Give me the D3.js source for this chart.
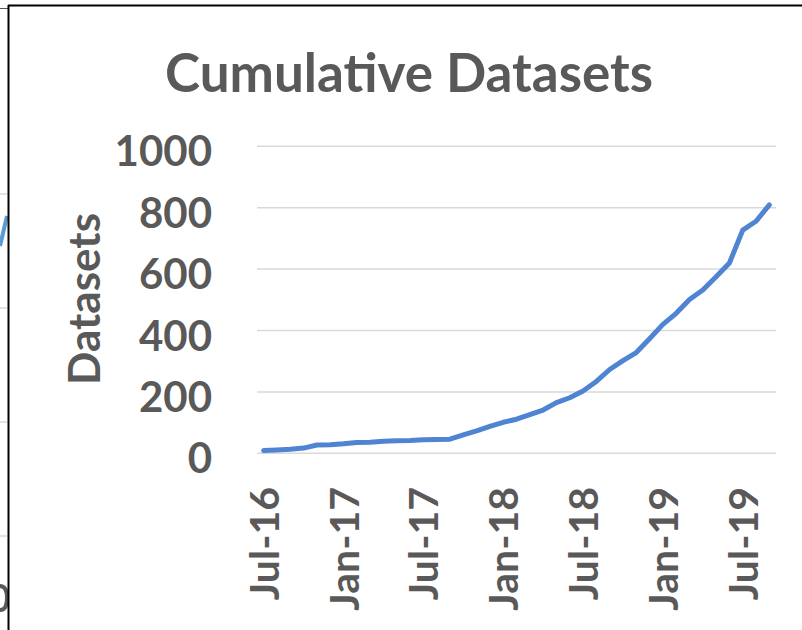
<!DOCTYPE html>
<html>
<head>
<meta charset="utf-8">
<script src="https://cdn.jsdelivr.net/npm/d3@7"></script>
<style>
  html, body { margin: 0; padding: 0; background: #fff; }
  svg { display: block; }
  text { font-family: Lato, "Open Sans", sans-serif; font-weight: bold; fill: #595959; }
</style>
</head>
<body>
<script>
// months from Jul-16 to Sep-19
const months = ["2016-07","2016-08","2016-09","2016-10","2016-11","2016-12",
  "2017-01","2017-02","2017-03","2017-04","2017-05","2017-06",
  "2017-07","2017-08","2017-09","2017-10","2017-11","2017-12",
  "2018-01","2018-02","2018-03","2018-04","2018-05","2018-06",
  "2018-07","2018-08","2018-09","2018-10","2018-11","2018-12",
  "2019-01","2019-02","2019-03","2019-04","2019-05","2019-06",
  "2019-07","2019-08","2019-09"];

// cumulative datasets
const datasets = [9, 11, 13, 17, 27, 28, 31, 35, 36, 39, 41, 42,
  44, 45, 46, 60, 73, 88, 101, 111, 126, 141, 165, 181, 203, 234,
  273, 302, 328, 373, 420, 456, 501, 532, 575, 620, 727, 756, 809];

const tickMonths = ["2016-07","2017-01","2017-07","2018-01","2018-07","2019-01","2019-07"];
const tickLabels = ["Jul-16","Jan-17","Jul-17","Jan-18","Jul-18","Jan-19","Jul-19"];
const yTicks = [0, 200, 400, 600, 800, 1000];

const W = 802, H = 630;
const plot = {left: 257, right: 776, top: 146.3, bottom: 453.3};

const svg = d3.select("body").append("svg").attr("width", W).attr("height", H);

// bit of the neighbouring chart showing on the left edge
const strip = svg.append("g");
[194, 308, 422, 536].forEach(y => {
    strip.append("line").attr("x1", 0).attr("x2", 7).attr("y1", y).attr("y2", y)
        .attr("stroke", "#d9d9d9").attr("stroke-width", 1.5);
});
strip.append("line").attr("x1", 0).attr("y1", 246).attr("x2", 7).attr("y2", 216)
    .attr("stroke", "#5b9bd5").attr("stroke-width", 4);
strip.append("line").attr("x1", 0).attr("x2", 8).attr("y1", 8.5).attr("y2", 8.5)
    .attr("stroke", "#555").attr("stroke-width", 1);
// cut-off end of a tick label from that chart
strip.append("path").attr("d", "M0,586 Q7,586 7,598 Q7,610 0,610")
    .attr("fill", "none").attr("stroke", "#595959").attr("stroke-width", 4);

// chart border
svg.append("line").attr("x1", 8.5).attr("x2", 8.5).attr("y1", 5).attr("y2", H)
    .attr("stroke", "#000").attr("stroke-width", 2);
svg.append("line").attr("x1", 8).attr("x2", W).attr("y1", 5.5).attr("y2", 5.5)
    .attr("stroke", "#000").attr("stroke-width", 2);

const x = d3.scalePoint().domain(months).range([plot.left, plot.right]).padding(0.5);
const y = d3.scaleLinear().domain([0, 1000]).range([plot.bottom, plot.top]);

// gridlines
svg.append("g").selectAll("line").data(yTicks).enter().append("line")
    .attr("x1", plot.left).attr("x2", plot.right)
    .attr("y1", d => y(d)).attr("y2", d => y(d))
    .attr("stroke", "#d9d9d9").attr("stroke-width", 1.5);

// y tick labels
svg.append("g").selectAll("text").data(yTicks).enter().append("text")
    .attr("x", 212).attr("y", d => y(d) + 20)
    .attr("text-anchor", "end").style("font-size", "42px")
    .text(d => d);

// x tick labels
svg.append("g").selectAll("text").data(tickMonths).enter().append("text")
    .attr("transform", d => "translate(" + (x(d) + 15) + ",487) rotate(-90)")
    .attr("text-anchor", "end").style("font-size", "41px")
    .text((d, i) => tickLabels[i]);

// line
const line = d3.line().x((d, i) => x(months[i])).y(d => y(d));
svg.append("path").datum(datasets)
    .attr("d", line).attr("fill", "none")
    .attr("stroke", "#4f84d3").attr("stroke-width", 5)
    .attr("stroke-linejoin", "round").attr("stroke-linecap", "round");

// titles
svg.append("text").attr("x", 409).attr("y", 92).attr("text-anchor", "middle")
    .style("font-size", "53px").text("Cumulative Datasets");

svg.append("text").attr("transform", "translate(100,299) rotate(-90)")
    .attr("text-anchor", "middle").style("font-size", "44px").text("Datasets");
</script>
</body>
</html>
